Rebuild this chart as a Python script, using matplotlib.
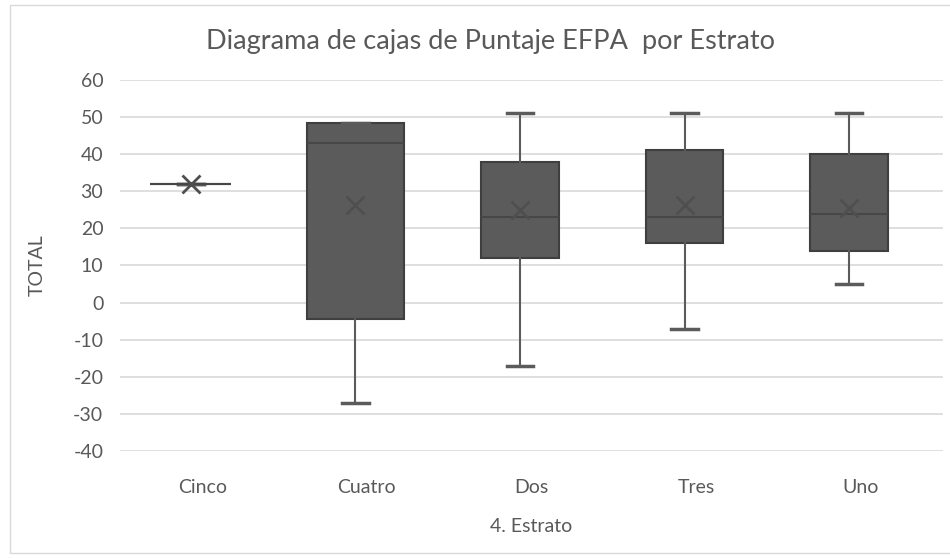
import numpy as np
import matplotlib
matplotlib.use('Agg')
import matplotlib.pyplot as plt
from matplotlib.patches import Rectangle

plt.rcParams['font.family'] = ['Lato', 'DejaVu Sans']
plt.rcParams['axes.unicode_minus'] = False

# Puntaje EFPA por estrato
estratos = ['Cinco', 'Cuatro', 'Dos', 'Tres', 'Uno']
minimo = [32, -27, -17, -7, 5]
q1 = [32, -4.5, 12, 16, 14]
mediana = [32, 43, 23, 23, 24]
q3 = [32, 48.5, 38, 41, 40]
maximo = [32, 48.5, 51, 51, 51]
media = [32, 26.3, 25, 26.3, 25.5]

stats = []
for i, name in enumerate(estratos):
    stats.append({'label': name, 'whislo': minimo[i], 'q1': q1[i], 'med': mediana[i],
                  'q3': q3[i], 'whishi': maximo[i], 'mean': media[i], 'fliers': []})

fig = plt.figure(figsize=(9.5, 5.58), dpi=100)
ax = fig.add_axes([0.1263, 0.1918, 0.8663, 0.6648])

# outer chart frame
fig.patches.append(Rectangle((10 / 950, 5 / 558), 945 / 950, 548 / 558, transform=fig.transFigure,
                             fill=False, edgecolor='#d9d9d9', linewidth=1.0))

pos = np.arange(len(estratos)) - 0.07
widths = [0.49, 0.59, 0.47, 0.47, 0.47]

ax.bxp(stats, positions=pos, widths=widths, patch_artist=True, showmeans=True,
       boxprops=dict(facecolor='#5b5b5b', edgecolor='#3f3f3f', linewidth=1.5),
       medianprops=dict(color='#474747', linewidth=1.5),
       whiskerprops=dict(color='#5b5b5b', linewidth=1.5),
       capprops=dict(color='#5b5b5b', linewidth=2.5),
       capwidths=0.16,
       meanprops=dict(marker='x', markersize=13, markeredgecolor='#4f4f4f', markeredgewidth=2),
       zorder=3)

ax.set_xlim(-0.5, 4.5)
ax.set_ylim(-40, 60)
ax.set_yticks(np.arange(-40, 61, 10))
ax.set_xticks(np.arange(len(estratos)))
ax.set_xticklabels(estratos)
ax.yaxis.grid(True, color='#d9d9d9', linewidth=1.2, zorder=0)
ax.set_axisbelow(True)
for s in ax.spines.values():
    s.set_visible(False)
ax.tick_params(length=0, labelsize=14, labelcolor='#595959', pad=12)
ax.tick_params(axis='x', pad=20)

fig.text(490 / 950, 1 - 42 / 558, 'Diagrama de cajas de Puntaje EFPA  por Estrato',
         fontsize=19.5, color='#595959', ha='center', va='center')
ax.set_xlabel('4. Estrato', fontsize=14, color='#595959', labelpad=16)
ax.set_ylabel('TOTAL', fontsize=14, color='#595959', labelpad=20)

fig.savefig('out.png', dpi=100)
